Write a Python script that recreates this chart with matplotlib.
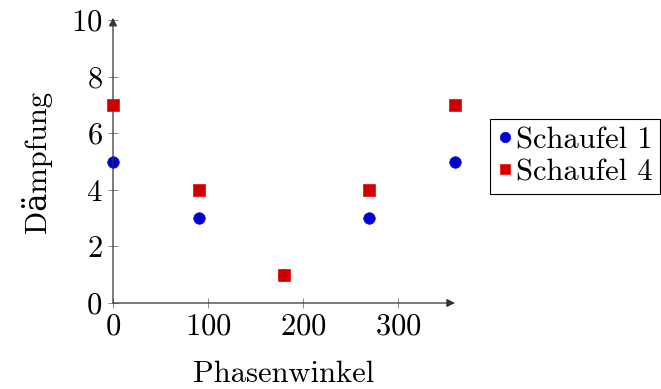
import matplotlib.pyplot as plt

plt.rcParams["font.family"] = ["cmr10", "DejaVu Serif"]
plt.rcParams["axes.formatter.use_mathtext"] = True

phase = [0, 90, 180, 270, 360]
schaufel1 = [5, 3, 1, 3, 5]
schaufel4 = [7, 4, 1, 4, 7]
xticks = [0, 100, 200, 300]
yticks = [0, 2, 4, 6, 8, 10]

fig = plt.figure(figsize=(6.61, 3.89), dpi=100)
ax = fig.add_axes([113 / 661, 86 / 389, 342 / 661, 283 / 389])

ax.plot(phase, schaufel1, "o", color="#0000cc", markeredgecolor="#0000ff",
        markersize=8.3, markeredgewidth=0.5, label="Schaufel 1",
        clip_on=False, zorder=3)
ax.plot(phase, schaufel4, "s", color="#cc0000", markeredgecolor="#ff0000",
        markersize=8, markeredgewidth=0.5, label="Schaufel 4",
        clip_on=False, zorder=4)

ax.set_xlim(0, 360)
ax.set_ylim(0, 10)
ax.set_xticks(xticks)
ax.set_yticks(yticks)

for s in ax.spines.values():
    s.set_visible(False)

axcol = "#333333"
ax.annotate("", xy=(360, 0), xytext=(0, 0), annotation_clip=False,
            arrowprops=dict(arrowstyle="-|>", color=axcol, lw=0.9,
                            mutation_scale=12, shrinkA=0, shrinkB=0))
ax.annotate("", xy=(0, 10.08), xytext=(0, 0), annotation_clip=False,
            arrowprops=dict(arrowstyle="-|>", color=axcol, lw=0.9,
                            mutation_scale=12, shrinkA=0, shrinkB=0))

ax.tick_params(direction="inout", length=7, width=0.6, color="#777777",
               labelsize=22, pad=4)

ax.set_xlabel("Phasenwinkel", fontsize=22, labelpad=14)
ax.set_ylabel("Dämpfung", fontsize=22, labelpad=14)

leg = fig.legend(loc="upper left", bbox_to_anchor=(490 / 661, 1 - 119 / 389),
                 fontsize=22, frameon=True, fancybox=False, edgecolor="black",
                 framealpha=1, handlelength=0.45, handletextpad=0.15,
                 borderpad=0.25, labelspacing=0.15, borderaxespad=0,
                 markerscale=0.9)
leg.get_frame().set_linewidth(0.8)

fig.savefig("out.png", dpi=100)
